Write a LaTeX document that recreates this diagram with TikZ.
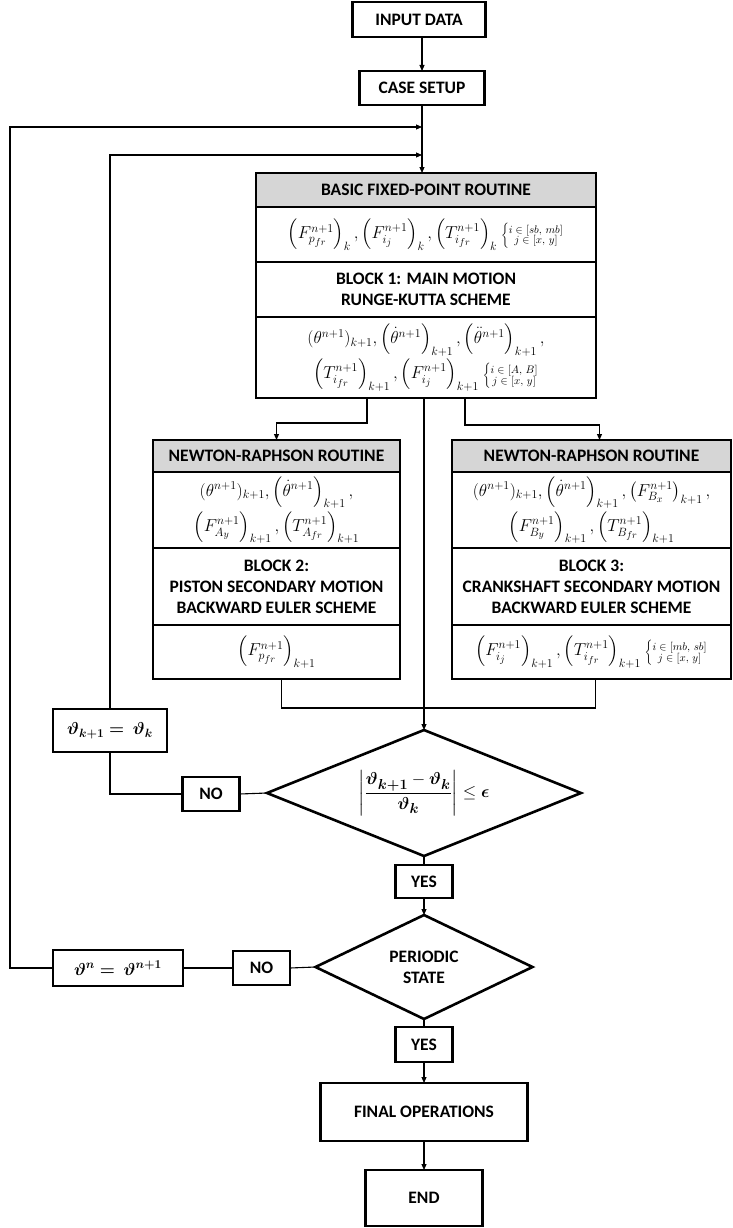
\documentclass[tikz,border=0pt]{standalone}
\usepackage{amsmath,amssymb,bm}
\usepackage{fontspec}
\setmainfont{Carlito}
\usetikzlibrary{arrows.meta,positioning,shapes.geometric}
\DeclareMathSizes{17}{17}{12.5}{10}
\DeclareMathSizes{17.5}{17.5}{13}{10}
\DeclareMathSizes{19}{19}{15}{12}
\newcommand{\idxset}[2]{{\fontsize{10.5}{11}\selectfont\renewcommand\arraystretch{0.8}$\left\{\begin{array}{@{}c@{}}#1\\ #2\end{array}\right.$}}

\begin{document}
\begin{tikzpicture}[x=1pt, y=-1pt,
  font=\fontsize{17.5}{21}\selectfont\bfseries, >={Triangle[length=6pt,width=5pt]},
  line width=1.1pt,
  box/.style={draw, line width=2.6pt, align=center, inner sep=0pt, outer sep=0pt},
  head/.style={box, fill=black!16},
  eqn/.style={box, font=\fontsize{17}{21}\selectfont},
  diam/.style={draw, line width=2.6pt, shape=diamond, inner sep=0pt, outer sep=0pt, align=center},
  ans/.style={box, minimum width=57pt, minimum height=34pt}]
\useasboundingbox (0,0) rectangle (733,1228);
\node[box, minimum width=133pt, minimum height=35pt] (input) at (419,19.5) {INPUT DATA};
\node[box, minimum width=125pt, minimum height=34pt] (case) at (422,88) {CASE SETUP};
% fixed-point routine
\node[head, minimum width=340pt, minimum height=34pt] (bhead) at (426,190) {BASIC FIXED-POINT ROUTINE};
\node[eqn, minimum width=340pt, minimum height=55pt, below=0pt of bhead] (bin)
  {$\left(F^{n+1}_{p_{fr}}\right)_{k},\left(F^{n+1}_{i_j}\right)_{k},\left(T^{n+1}_{i_{fr}}\right)_{k}$\ \idxset{i\in[sb,\,mb]}{j\in[x,\,y]}};
\node[box, minimum width=340pt, minimum height=55pt, below=0pt of bin] (b1) {BLOCK 1: MAIN MOTION\\RUNGE-KUTTA SCHEME};
\node[eqn, minimum width=340pt, minimum height=81pt, below=0pt of b1] (bout)
  {$(\theta^{n+1})_{k+1},\left(\dot\theta^{n+1}\right)_{k+1},\left(\ddot\theta^{n+1}\right)_{k+1},$\\[2pt]
   $\left(T^{n+1}_{i_{fr}}\right)_{k+1},\left(F^{n+1}_{i_j}\right)_{k+1}$\ \idxset{i\in[A,\,B]}{j\in[x,\,y]}};
% newton-raphson, piston
\node[head, minimum width=247pt, minimum height=32pt] (lhead) at (276.5,456) {NEWTON-RAPHSON ROUTINE};
\node[eqn, minimum width=247pt, minimum height=76pt, below=0pt of lhead] (lin)
  {$(\theta^{n+1})_{k+1},\left(\dot\theta^{n+1}\right)_{k+1},$\\[2pt]
   $\left(F^{n+1}_{A_y}\right)_{k+1},\left(T^{n+1}_{A_{fr}}\right)_{k+1}$};
\node[box, minimum width=247pt, minimum height=77pt, below=0pt of lin] (l2) {BLOCK 2:\\PISTON SECONDARY MOTION\\BACKWARD EULER SCHEME};
\node[eqn, minimum width=247pt, minimum height=54pt, below=0pt of l2] (lout) {$\left(F^{n+1}_{p_{fr}}\right)_{k+1}$};
% newton-raphson, crankshaft
\node[head, minimum width=279pt, minimum height=32pt] (rhead) at (591.5,456) {NEWTON-RAPHSON ROUTINE};
\node[eqn, minimum width=279pt, minimum height=76pt, below=0pt of rhead] (rin)
  {$(\theta^{n+1})_{k+1},\left(\dot\theta^{n+1}\right)_{k+1},\left(F^{n+1}_{B_x}\right)_{k+1},$\\[2pt]
   $\left(F^{n+1}_{B_y}\right)_{k+1},\left(T^{n+1}_{B_{fr}}\right)_{k+1}$};
\node[box, minimum width=279pt, minimum height=77pt, below=0pt of rin] (r3) {BLOCK 3:\\CRANKSHAFT SECONDARY MOTION\\BACKWARD EULER SCHEME};
\node[eqn, minimum width=279pt, minimum height=54pt, below=0pt of r3] (rout)
  {$\left(F^{n+1}_{i_j}\right)_{k+1},\left(T^{n+1}_{i_{fr}}\right)_{k+1}$\ \idxset{i\in[mb,\,sb]}{j\in[x,\,y]}};
% convergence checks
\node[diam, minimum width=314pt, minimum height=126pt, font=\fontsize{19}{23}\selectfont] (conv) at (424,793)
  {\makebox[0pt]{\smash{\raisebox{-4.8pt}{$\displaystyle\left\lvert\frac{\bm{\vartheta}_{\bm{k+1}}-\bm{\vartheta}_{\bm{k}}}{\bm{\vartheta}_{\bm{k}}}\right\rvert\le\bm{\epsilon}$}}}};
\node[ans] (no1) at (211,794) {NO};
\node[box, minimum width=114pt, minimum height=43pt] (kupd) at (110,730.5) {$\bm{\vartheta}_{\bm{k+1}}\bm{=}\ \bm{\vartheta}_{\bm{k}}$};
\node[ans, minimum height=33pt] (yes1) at (424,881.5) {YES};
\node[diam, minimum width=217pt, minimum height=104pt] (per) at (424,967) {PERIODIC\\STATE};
\node[ans] (no2) at (261.5,968) {NO};
\node[box, minimum width=130pt, minimum height=36pt] (nupd) at (118,968) {$\bm{\vartheta}^{\bm{n}}\bm{=}\ \bm{\vartheta}^{\bm{n+1}}$};
\node[ans, minimum height=35pt] (yes2) at (424,1044.5) {YES};
\node[box, minimum width=207pt, minimum height=58pt] (final) at (424,1112) {FINAL OPERATIONS};
\node[box, minimum width=117pt, minimum height=56pt] (endn) at (424,1198) {END};
\coordinate (j1) at (422,127);
\coordinate (j2) at (422,155);
% connectors
\draw[->] (input.south -| case.north) -- (case.north);
\draw[->] (case.south) -- (case.south |- bhead.north);
\draw[->] ([xshift=-59pt]bout.south) -- ++(0,25) -| (lhead.north);
\draw[->] ([xshift=39pt]bout.south) -- ++(0,27) -| ([xshift=8pt]rhead.north);
\draw[->] (bout.south -| conv.north) -- (conv.north);
\draw ([xshift=5pt]lout.south) -- ++(0,29) -| ([xshift=4pt]rout.south);
\draw (conv.west) -- (no1.east);
\draw (no1.west) -| (kupd.south);
\draw[->] (kupd.north) |- (j2);
\draw (conv.south) -- (yes1.north);
\draw[->] (yes1.south) -- (per.north);
\draw (per.west) -- (no2.east);
\draw (no2.west) -- (nupd.east);
\draw[->] (nupd.west) -- ++(-43,0) |- (j1);
\draw (per.south) -- (yes2.north);
\draw[->] (yes2.south) -- (final.north);
\draw[->] (final.south) -- (endn.north);
\end{tikzpicture}
\end{document}
